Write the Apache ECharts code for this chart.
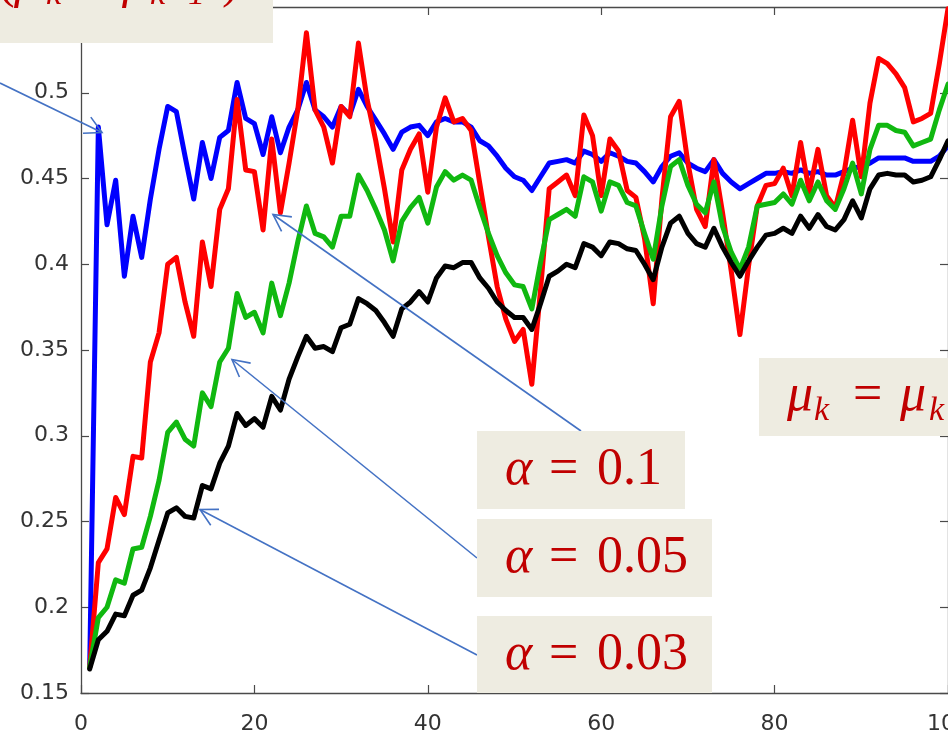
<!DOCTYPE html>
<html>
<head>
<meta charset="utf-8">
<script src="https://cdn.jsdelivr.net/npm/echarts@6/dist/echarts.min.js"></script>
<style>
html,body{margin:0;padding:0;background:#ffffff;}
#chart{width:948px;height:734px;}
</style>
</head>
<body>
<div id="chart"></div>
<script>
// iteration index k = 1..100
const iterations = Array.from({length: 100}, (_, i) => i + 1);

const xTicks = [0, 20, 40, 60, 80, 100];
const yTicks = [0.15, 0.2, 0.25, 0.3, 0.35, 0.4, 0.45, 0.5, 0.55];

// blue curve (mu_k = mu_{k-1})
const blueValues = [
0.165,0.480,0.423,0.449,0.393,0.428,0.404,0.438,0.467,0.492,
0.489,0.463,0.438,0.471,0.450,0.474,0.478,0.506,0.485,0.482,
0.464,0.486,0.465,0.480,0.490,0.506,0.490,0.486,0.480,0.492,
0.487,0.502,0.492,0.484,0.476,0.467,0.477,0.480,0.481,0.475,
0.483,0.485,0.483,0.483,0.480,0.472,0.469,0.463,0.456,0.451,
0.449,0.443,0.451,0.459,0.460,0.461,0.459,0.466,0.464,0.460,
0.465,0.463,0.460,0.459,0.454,0.448,0.457,0.463,0.465,0.459,
0.456,0.454,0.461,0.453,0.448,0.444,0.447,0.450,0.453,0.453,
0.454,0.453,0.455,0.453,0.454,0.452,0.452,0.454,0.456,0.457,
0.459,0.462,0.462,0.462,0.462,0.460,0.460,0.460,0.463,0.469
];

// red curve (alpha = 0.1)
const redValues = [
0.165,0.226,0.234,0.264,0.254,0.288,0.287,0.343,0.360,0.400,
0.404,0.378,0.358,0.413,0.387,0.432,0.444,0.496,0.455,0.454,
0.420,0.473,0.430,0.459,0.490,0.535,0.490,0.480,0.459,0.492,
0.486,0.529,0.496,0.472,0.444,0.413,0.455,0.467,0.476,0.442,
0.480,0.497,0.483,0.485,0.478,0.447,0.416,0.387,0.368,0.355,
0.362,0.330,0.385,0.444,0.448,0.452,0.440,0.487,0.475,0.440,
0.473,0.466,0.443,0.439,0.415,0.377,0.438,0.486,0.495,0.459,
0.432,0.422,0.461,0.430,0.396,0.359,0.399,0.434,0.446,0.447,
0.456,0.440,0.471,0.442,0.467,0.440,0.433,0.453,0.484,0.451,
0.494,0.520,0.517,0.511,0.503,0.483,0.485,0.488,0.517,0.549
];

// green curve (alpha = 0.05)
const greenValues = [
0.165,0.194,0.200,0.216,0.214,0.234,0.235,0.253,0.274,0.302,
0.308,0.298,0.294,0.325,0.317,0.343,0.351,0.383,0.369,0.372,
0.360,0.389,0.370,0.389,0.413,0.434,0.418,0.416,0.410,0.428,
0.428,0.452,0.443,0.432,0.420,0.402,0.425,0.433,0.439,0.424,
0.445,0.454,0.449,0.452,0.449,0.433,0.418,0.405,0.395,0.388,
0.387,0.374,0.401,0.426,0.429,0.432,0.428,0.451,0.448,0.431,
0.448,0.446,0.436,0.434,0.418,0.403,0.434,0.457,0.461,0.446,
0.435,0.430,0.448,0.422,0.407,0.397,0.410,0.434,0.435,0.436,
0.441,0.435,0.449,0.437,0.448,0.437,0.432,0.444,0.459,0.441,
0.467,0.481,0.481,0.478,0.477,0.469,0.471,0.473,0.490,0.505
];

// black curve (alpha = 0.03)
const blackValues = [
0.164,0.181,0.186,0.196,0.195,0.207,0.210,0.223,0.239,0.255,
0.258,0.253,0.252,0.271,0.269,0.284,0.294,0.313,0.306,0.310,
0.305,0.323,0.315,0.333,0.346,0.358,0.351,0.352,0.349,0.363,
0.365,0.380,0.377,0.373,0.366,0.358,0.374,0.378,0.384,0.378,
0.392,0.399,0.398,0.401,0.401,0.392,0.386,0.378,0.373,0.369,
0.369,0.362,0.377,0.393,0.396,0.400,0.398,0.412,0.410,0.405,
0.413,0.412,0.409,0.408,0.400,0.391,0.410,0.424,0.428,0.418,
0.412,0.410,0.421,0.410,0.401,0.393,0.402,0.410,0.417,0.418,
0.421,0.418,0.428,0.421,0.429,0.422,0.420,0.426,0.437,0.427,
0.444,0.452,0.453,0.452,0.452,0.448,0.449,0.451,0.461,0.472
];

const seriesNames = ['mu_k = mu_{k-1}', 'alpha = 0.1', 'alpha = 0.05', 'alpha = 0.03'];
const seriesColors = ['#0000ff', '#ff0000', '#10b810', '#000000'];
const seriesValues = [blueValues, redValues, greenValues, blackValues];

const chart = echarts.init(document.getElementById('chart'), null, {renderer: 'canvas'});

const AX = '#4a4a4a';
const LBL = '#333333';
const BOX = '#eeece1';
const RED = '#c00000';
const ARROW = '#4472c4';

function axisCommon(extra) {
  return Object.assign({
    axisLine: {show: true, onZero: false, lineStyle: {color: AX, width: 1.3}},
    axisTick: {show: true, inside: true, length: 8, lineStyle: {color: AX, width: 1.2}},
    splitLine: {show: false}
  }, extra);
}

const xMin = xTicks[0], xMax = xTicks[xTicks.length - 1], xStep = xTicks[1] - xTicks[0];
const yMin = yTicks[0], yMax = yTicks[yTicks.length - 1], yStep = 0.05;

function arrow(sx, sy, tx, ty) {
  const a = Math.atan2(ty - sy, tx - sx);
  const L = 19, spread = 28 * Math.PI / 180;
  const b1 = [tx - L * Math.cos(a - spread), ty - L * Math.sin(a - spread)];
  const b2 = [tx - L * Math.cos(a + spread), ty - L * Math.sin(a + spread)];
  return [
    {type: 'polyline', z: 100, shape: {points: [[sx, sy], [tx, ty]]}, style: {stroke: ARROW, lineWidth: 1.6, fill: null}},
    {type: 'polyline', z: 100, shape: {points: [b1, [tx, ty], b2]}, style: {stroke: ARROW, lineWidth: 1.6, fill: null}}
  ];
}

function txt(x, y, s, size, italic, align) {
  return {type: 'text', z: 102, x: x, y: y,
    style: {text: s, fill: RED, fontSize: size, fontFamily: 'Liberation Serif',
      fontStyle: italic ? 'italic' : 'normal', align: align || 'left', verticalAlign: 'middle'}};
}
function rect(x, y, w, h) {
  return {type: 'rect', z: 101, shape: {x: x, y: y, width: w, height: h}, style: {fill: BOX}};
}

function alphaLabel(baseY, valueText) {
  const my = baseY - 17;
  return [txt(505, my, 'α', 52, true), txt(549, my, '=', 52, false), txt(597, my, valueText, 52, false)];
}

const graphics = [].concat(
  // top-left box (text cut at the top)
  [rect(0, 0, 273, 43)],
  [txt(-2, -16, '(', 50, false), txt(14, -16, 'μ', 50, true), txt(46, -5, 'k', 34, true),
   txt(82, -16, '−', 50, false), txt(122, -16, 'μ', 50, true), txt(150, -5, 'k−1', 34, true),
   txt(222, -16, ')', 50, false)],
  // right box
  [rect(759, 358, 189, 78)],
  [txt(787, 396, 'μ', 52, true), txt(814, 411, 'k', 34, true), txt(853, 396, '=', 52, false),
   txt(900, 396, 'μ', 52, true), txt(929, 411, 'k', 34, true)],
  // alpha boxes
  [rect(477, 431, 208, 78)], alphaLabel(487, '0.1'),
  [rect(477, 519, 235, 78)], alphaLabel(575, '0.05'),
  [rect(477, 616, 235, 77)], alphaLabel(672, '0.03'),
  // arrows
  arrow(0, 83, 102, 132.5),
  arrow(581, 431, 273, 214.5),
  arrow(477, 558, 232, 359.5),
  arrow(477, 655, 200, 509.5)
);

const option = {
  animation: false,
  backgroundColor: '#ffffff',
  grid: {left: 81, right: 0, top: 7, bottom: 41, containLabel: false, outerBoundsMode: 'none'},
  xAxis: [
    axisCommon({type: 'value', position: 'bottom', min: xMin, max: xMax, interval: xStep,
      axisLabel: {show: true, color: LBL, fontFamily: 'DejaVu Sans', fontSize: 22, margin: 20}}),
    axisCommon({type: 'value', position: 'top', min: xMin, max: xMax, interval: xStep,
      axisLabel: {show: false}})
  ],
  yAxis: [
    axisCommon({type: 'value', position: 'left', min: yMin, max: yMax, interval: yStep,
      axisLabel: {show: true, color: LBL, fontFamily: 'DejaVu Sans', fontSize: 22, margin: 12,
        showMaxLabel: false, formatter: v => String(+v.toFixed(2))}}),
    axisCommon({type: 'value', position: 'right', min: yMin, max: yMax, interval: yStep,
      axisLabel: {show: false}})
  ],
  series: seriesValues.map((vals, si) => ({
    name: seriesNames[si],
    type: 'line',
    xAxisIndex: 0, yAxisIndex: 0,
    data: vals.map((v, i) => [iterations[i], v]),
    showSymbol: false, symbol: 'none',
    lineStyle: {color: seriesColors[si], width: 5, join: 'round', cap: 'round'},
    itemStyle: {color: seriesColors[si]},
    clip: true,
    z: 2 + si
  })),
  graphic: {elements: graphics}
};

chart.setOption(option);
</script>
</body>
</html>
